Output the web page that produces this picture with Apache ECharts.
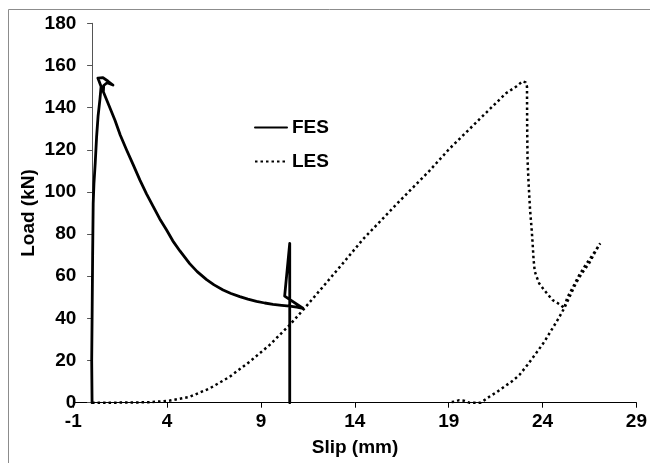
<!DOCTYPE html>
<html>
<head>
<meta charset="utf-8">
<script src="https://cdn.jsdelivr.net/npm/echarts@6/dist/echarts.min.js"></script>
<style>
html,body{margin:0;padding:0;background:#fff;}
#chart{width:650px;height:463px;}
</style>
</head>
<body>
<div id="chart"></div>
<script>
// ---- data ----
var seriesNames = ['FES', 'LES'];
var xTitle = 'Slip (mm)';
var yTitle = 'Load (kN)';

var fesX = [0, -0.02, 0.0, 0.03, 0.06, 0.1, 0.17, 0.24, 0.32, 0.42, 0.48, 0.31, 0.58, 0.85, 1.11, 0.8, 0.62, 0.6, 0.9, 1.22, 1.5, 1.84, 2.2, 2.55, 2.9, 3.26, 3.6, 3.97, 4.3, 4.68, 5.2, 5.6, 6.1, 6.5, 6.98, 7.4, 7.87, 8.3, 8.76, 9.2, 9.64, 10.1, 10.53, 10.9, 11.23, 10.26, 10.53, 10.53];
var fesY = [0, 20, 39, 70, 94.7, 104, 114, 126, 136, 144, 150, 154, 154.2, 152.5, 150.7, 151.8, 150.5, 147.5, 141, 134, 127, 119.9, 112.7, 105.6, 99.1, 93, 87.3, 81.9, 76.8, 72, 66, 62.2, 58.4, 55.9, 53.5, 51.8, 50.3, 49.1, 48.1, 47.3, 46.7, 46.2, 45.8, 45.3, 44.8, 50.6, 75.6, 0];

var lesX = [0, 1, 2, 3.09, 4.14, 5.2, 6.27, 7.33, 8.4, 9.46, 10.53, 11.24, 12.3, 13.36, 14.43, 16.2, 17.97, 19.04, 20.64, 22.05, 22.6, 22.94, 23.1, 23.17, 23.18, 23.2, 23.25, 23.33, 23.42, 23.47, 23.52, 23.58, 23.65, 23.82, 24.09, 24.53, 24.98, 25.15, 25.31, 25.6, 25.95, 26.3, 26.7, 27.07, 26.8, 26.49, 26.1, 25.78, 25.45, 25.15, 24.85, 24.53, 24.1, 23.65, 23.2, 22.76, 22.35, 21.96, 21.55, 21.16, 20.9, 20.69, 20.4, 20.1, 19.83, 19.56, 19.3, 19.04];
var lesY = [0, 0, 0.1, 0.2, 1.0, 2.8, 6.8, 12.3, 19.5, 27.4, 36.9, 44, 55, 66.1, 77.5, 94, 110, 120.5, 134.5, 146.8, 150, 152.5, 152, 150, 130, 115, 105, 92, 82, 75.6, 68, 62.5, 60.5, 56.6, 53.4, 48.7, 46.3, 44.8, 49.7, 54.5, 60.5, 65.5, 70.5, 75.6, 71.5, 66.3, 61.5, 56.8, 50.5, 44.8, 40, 35.3, 29, 23.4, 18, 13.1, 10, 7.6, 5, 2.8, 1.2, 0, 0, 0, 0.9, 1.2, 0.5, 0.2];

var xMin = -1, xMax = 29, xStep = 5;
var yMin = 0, yMax = 180, yStep = 20;
var yCrossAt = 0; // vertical axis crosses the horizontal axis at slip = 0

function zip(xs, ys) {
  var out = [];
  for (var i = 0; i < xs.length; i++) out.push([xs[i], ys[i]]);
  return out;
}

var W = 650;
var G = {left: 73.3, right: 12.7, top: 23.3, bottom: 60.3};
// left edge of a second grid whose left side sits at slip = yCrossAt on the main x scale
var crossLeft = G.left + (yCrossAt - xMin) / (xMax - xMin) * (W - G.left - G.right);

var font = '"Liberation Sans", Arial, sans-serif';
var fs = 19;
var axisGray = '#555';
var chart = echarts.init(document.getElementById('chart'), null, {renderer: 'canvas'});

var option = {
  animation: false,
  backgroundColor: '#fff',
  grid: [
    {left: G.left, right: G.right, top: G.top, bottom: G.bottom, containLabel: false},
    {left: crossLeft, right: G.right, top: G.top, bottom: G.bottom, containLabel: false}
  ],
  legend: {
    orient: 'vertical',
    left: 249,
    top: 113,
    itemWidth: 32,
    itemHeight: 14,
    itemGap: 15,
    data: seriesNames,
    itemStyle: {color: 'rgba(0,0,0,0)', borderWidth: 0, opacity: 0},
    textStyle: {fontFamily: font, fontWeight: 'bold', fontSize: fs, color: '#000'}
  },
  xAxis: [{
    gridIndex: 0, type: 'value', min: xMin, max: xMax, interval: xStep,
    axisLine: {show: true, onZero: false, lineStyle: {color: '#000', width: 1}},
    axisTick: {show: true, inside: false, length: 5, lineStyle: {color: '#000'}},
    axisLabel: {margin: 10, fontFamily: font, fontWeight: 'bold', fontSize: fs, color: '#000'},
    splitLine: {show: false}
  }, {
    gridIndex: 1, type: 'value', min: yCrossAt, max: xMax, show: false
  }],
  yAxis: [{
    gridIndex: 0, type: 'value', min: yMin, max: yMax, interval: yStep, position: 'left',
    axisLine: {show: false, onZero: false},
    axisTick: {show: false},
    axisLabel: {margin: -3, fontFamily: font, fontWeight: 'bold', fontSize: fs, color: '#000'},
    splitLine: {show: false}
  }, {
    gridIndex: 1, type: 'value', min: yMin, max: yMax, interval: yStep, position: 'left',
    axisLine: {show: true, onZero: false, lineStyle: {color: axisGray, width: 1}},
    axisTick: {show: true, inside: false, length: 5, lineStyle: {color: axisGray, width: 1}},
    axisLabel: {show: false},
    splitLine: {show: false}
  }],
  graphic: [
    {type: 'line', shape: {x1: 8.5, y1: 9.5, x2: 650, y2: 9.5}, style: {stroke: '#8c8c8c', lineWidth: 1}},
    {type: 'line', shape: {x1: 8.5, y1: 9.5, x2: 8.5, y2: 463}, style: {stroke: '#8c8c8c', lineWidth: 1}},
    {type: 'text', x: 355, y: 448, style: {text: xTitle, fill: '#000', font: 'bold ' + fs + 'px ' + font, textAlign: 'center', textVerticalAlign: 'middle'}},
    {type: 'text', x: 29, y: 213, rotation: Math.PI / 2, style: {text: yTitle, fill: '#000', font: 'bold ' + fs + 'px ' + font, textAlign: 'center', textVerticalAlign: 'middle'}}
  ],
  series: [{
    name: seriesNames[0], type: 'line', xAxisIndex: 0, yAxisIndex: 0, data: zip(fesX, fesY), z: 3,
    showSymbol: false, symbol: 'none',
    lineStyle: {color: '#000', width: 2.8, join: 'round', cap: 'round'},
    itemStyle: {color: '#000'}
  }, {
    name: seriesNames[1], type: 'line', xAxisIndex: 0, yAxisIndex: 0, data: zip(lesX, lesY), z: 2,
    showSymbol: false, symbol: 'none',
    lineStyle: {color: '#000', width: 2.5, type: [2.5, 3], cap: 'butt'},
    itemStyle: {color: '#000'}
  }]
};
chart.setOption(option);
</script>
</body>
</html>
